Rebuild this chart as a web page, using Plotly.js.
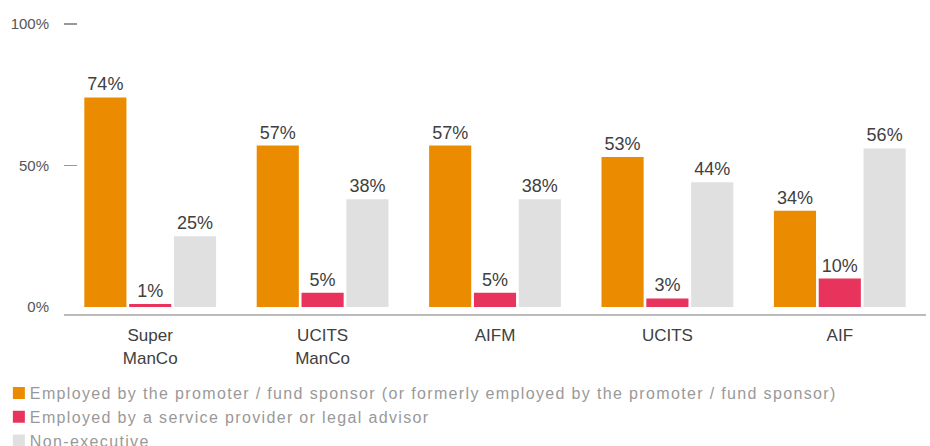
<!DOCTYPE html>
<html>
<head>
<meta charset="utf-8">
<script src="https://cdn.plot.ly/plotly-3.0.1.min.js"></script>
<style>
html,body{margin:0;padding:0;background:#fff;}
#chart{width:930px;height:446px;}
.legendtext{letter-spacing:1.35px;}
#chart .legendpoints{transform:translate(9px,0px);}
</style>
</head>
<body>
<div id="chart"></div>
<script>
const categories = ["Super<br>ManCo", "UCITS<br>ManCo", "AIFM", "UCITS", "AIF"];
const seriesNames = [
  "Employed by the promoter / fund sponsor (or formerly employed by the promoter / fund sponsor)",
  "Employed by a service provider or legal advisor",
  "Non-executive"
];
const promoter = [74, 57, 57, 53, 34];
const serviceProvider = [1, 5, 5, 3, 10];
const nonExecutive = [25, 38, 38, 44, 56];
const seriesColors = ["#EB8C00", "#E8345C", "#E0E0E0"];
const yTickVals = [0, 50, 100];
const yTickText = ["0%", "50%", "100%"];
const yDashVals = [50, 100];

const allSeries = [promoter, serviceProvider, nonExecutive];
const traces = allSeries.map((vals, i) => ({
  type: "bar",
  name: seriesNames[i],
  x: categories,
  y: vals,
  text: vals.map(v => v + "%"),
  textposition: "outside",
  cliponaxis: false,
  textfont: {family: "Liberation Sans, Arial, sans-serif", size: 18, color: "#404040"},
  marker: {color: seriesColors[i]},
  hoverinfo: "skip"
}));
traces.push({
  type: "scatter", mode: "markers", x: [], y: [], yaxis: "y2",
  showlegend: false, hoverinfo: "skip"
});

const yRange = [-2.5, 101];

const layout = {
  width: 930, height: 446,
  margin: {l: 64, r: 4, t: 21, b: 132, autoexpand: false},
  paper_bgcolor: "#fff", plot_bgcolor: "#fff",
  font: {family: "Liberation Sans, Arial, sans-serif", color: "#404040"},
  barmode: "group",
  bargap: 0.22,
  bargroupgap: 0.06,
  showlegend: true,
  legend: {
    orientation: "v",
    x: -0.086, xanchor: "left",
    y: -0.212, yanchor: "top",
    font: {size: 16, color: "#999999"},
    tracegroupgap: 0,
    itemclick: false
  },
  xaxis: {
    type: "category",
    showline: true, linecolor: "#bbbbbb", linewidth: 2,
    ticks: "", showgrid: false, zeroline: false,
    tickfont: {size: 17, color: "#404040"},
    ticklabelstandoff: 5
  },
  yaxis: {
    range: yRange,
    tickvals: yTickVals, ticktext: yTickText,
    ticks: "", showgrid: false, zeroline: false, showline: false,
    tickfont: {size: 15, color: "#555555"},
    ticklabelstandoff: 14
  },
  yaxis2: {
    overlaying: "y", side: "left",
    range: yRange,
    tickvals: yDashVals,
    ticks: "inside", ticklen: 13, tickwidth: 1.5, tickcolor: "#999999",
    showticklabels: false, showgrid: false, zeroline: false, showline: false
  }
};

Plotly.newPlot("chart", traces, layout, {displayModeBar: false, staticPlot: true});
</script>
</body>
</html>
